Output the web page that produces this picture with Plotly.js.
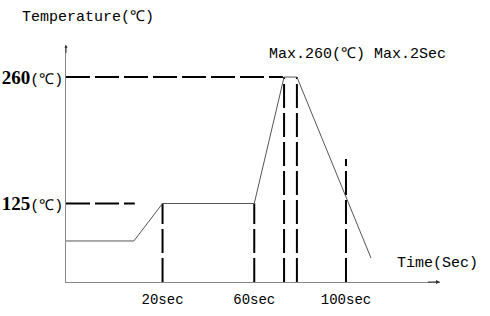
<!DOCTYPE html>
<html>
<head>
<meta charset="utf-8">
<script src="https://cdn.plot.ly/plotly-3.0.1.min.js"></script>
<style>html,body{margin:0;padding:0;background:#fff;}#chart{width:490px;height:316px;}</style>
</head>
<body>
<div id="chart"></div>
<script>
// Reflow profile (schematic), time in sec, temperature in °C
const profileTime = [-22.1, 7.5, 20, 60, 73, 78.6, 110.9];
const profileTemp = [85, 85, 125, 125, 260, 260, 66.8];

const levelTemps = [125, 260];
const levelEnds = [7.9, 72.5];

const markerTimes = [20, 60, 73, 78.6, 100];
const markerTops = [125, 125, 260, 260, 172.5];

const xTickVals = [20, 60, 100];
const xTickText = ['20sec', '60sec', '100sec'];

const xRange = [-22.1, 141.0];
const yRange = [41.2, 294.2];

const mono = 'Liberation Mono, DejaVu Sans Mono, monospace';
const dashStyle = {color: '#000', width: 2, dash: '24px,5px'};

const traces = [];
levelTemps.forEach((t, i) => {
  traces.push({x: [xRange[0], levelEnds[i]], y: [t, t], mode: 'lines', line: dashStyle, hoverinfo: 'skip'});
});
markerTimes.forEach((t, i) => {
  traces.push({x: [t, t], y: [yRange[0], markerTops[i]], mode: 'lines', line: dashStyle, hoverinfo: 'skip'});
});
traces.push({x: profileTime, y: profileTemp, mode: 'lines', line: {color: '#555', width: 1}, hoverinfo: 'skip'});

const layout = {
  width: 490, height: 316,
  margin: {l: 66, r: 50, t: 45, b: 34},
  paper_bgcolor: '#fff', plot_bgcolor: '#fff',
  showlegend: false,
  xaxis: {
    range: xRange, showgrid: false, zeroline: false,
    showline: true, linecolor: '#888', linewidth: 1,
    tickvals: xTickVals, ticktext: xTickText, ticks: '',
    ticklabelstandoff: 4,
    tickfont: {family: mono, size: 14, color: '#000'}
  },
  yaxis: {
    range: yRange, showgrid: false, zeroline: false,
    showline: true, linecolor: '#888', linewidth: 1,
    tickvals: levelTemps,
    ticktext: levelTemps.map(v => '<b>' + v + '</b><span style="font-family:' + mono + ';font-size:15px">(℃)</span>'),
    ticks: '',
    ticklabelstandoff: -2,
    tickfont: {family: 'Liberation Serif, serif', size: 19, color: '#000'}
  },
  annotations: [
    {xref: 'paper', yref: 'paper', x: -0.123, y: 1.114, xanchor: 'left', yanchor: 'middle',
     text: 'Temperature(℃)', showarrow: false, font: {family: mono, size: 15, color: '#000'}},
    {xref: 'paper', yref: 'paper', x: 0.537, y: 0.958, xanchor: 'left', yanchor: 'middle',
     text: 'Max.260(℃) Max.2Sec', showarrow: false, font: {family: mono, size: 15, color: '#000'}},
    {xref: 'paper', yref: 'paper', x: 0.880, y: 0.080, xanchor: 'left', yanchor: 'middle',
     text: 'Time(Sec)', showarrow: false, font: {family: mono, size: 15, color: '#000'}},
    {x: xRange[1], y: yRange[0], ax: xRange[1] - 6, ay: yRange[0], xref: 'x', yref: 'y', axref: 'x', ayref: 'y',
     text: '', showarrow: true, arrowhead: 2, arrowsize: 0.8, arrowwidth: 1, arrowcolor: '#333'},
    {x: xRange[0], y: yRange[1], ax: xRange[0], ay: yRange[1] - 10, xref: 'x', yref: 'y', axref: 'x', ayref: 'y',
     text: '', showarrow: true, arrowhead: 2, arrowsize: 0.6, arrowwidth: 1, arrowcolor: '#333'}
  ]
};

Plotly.newPlot('chart', traces, layout, {staticPlot: true, displayModeBar: false});
</script>
</body>
</html>
